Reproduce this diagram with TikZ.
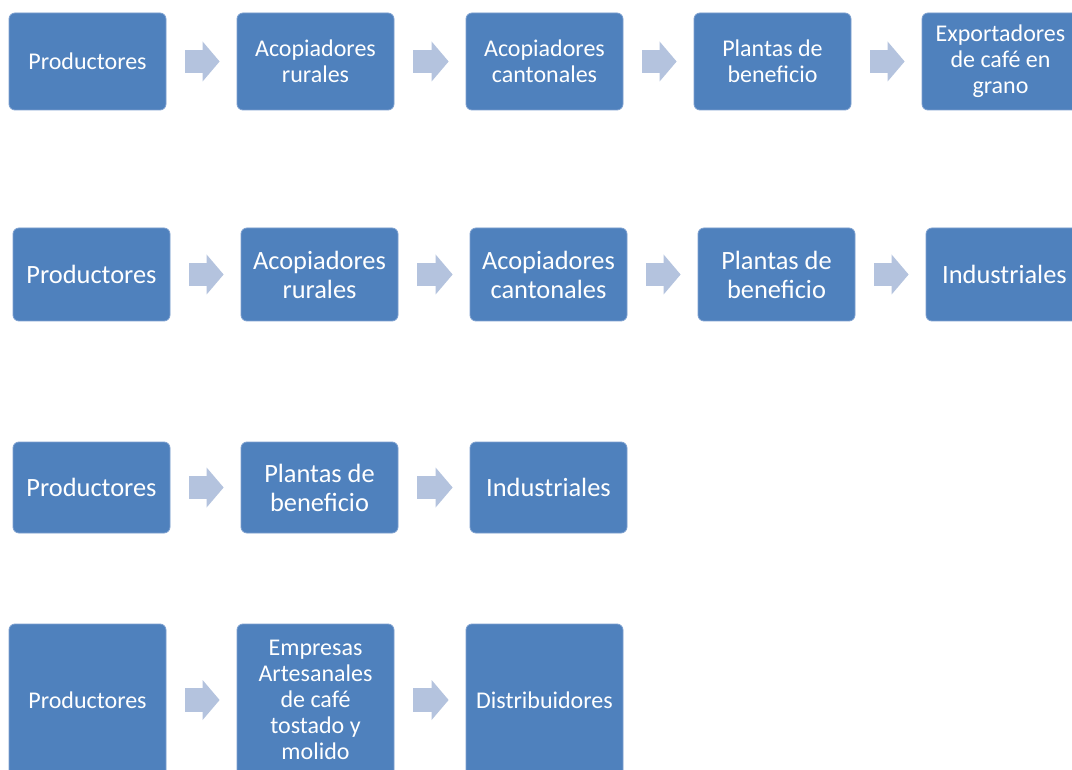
\documentclass[tikz,border=0pt]{standalone}
\usepackage{fontspec}
\setmainfont{Carlito}
\usetikzlibrary{arrows.meta}
\definecolor{boxblue}{RGB}{79,129,189}
\definecolor{boxedge}{RGB}{125,160,208}
\definecolor{arrfill}{RGB}{180,195,222}
\tikzset{
  flowbox/.style={rectangle, rounded corners=4.5pt, fill=boxblue, draw=boxedge, line width=0.6pt,
    text=white, align=center, minimum width=117.75pt, inner sep=0pt},
  smallrow/.style={flowbox, font=\fontsize{18}{19.5}\selectfont},
  bigrow/.style={flowbox, font=\fontsize{19.8}{21.8}\selectfont},
  blockarrow/.style={draw=arrfill, line width=17.5pt,
    -{Triangle[length=12.75pt,width=30pt,line width=0pt]}, shorten <=14.25pt, shorten >=12.75pt}
}
\begin{document}
\begin{tikzpicture}[x=0.75pt,y=-0.75pt]
\clip (0,0) rectangle (1072,770);
\fill[white] (0,0) rectangle (1072,770);
% Row 1
\begin{scope}[every node/.append style={smallrow, minimum height=72.75pt}]
\node (a1) at (87.5,61.5) {Productores};
\node (a2) at (315.5,61.5) {Acopiadores\\rurales};
\node (a3) at (544.5,61.5) {Acopiadores\\cantonales};
\node (a4) at (772.5,61.5) {Plantas de\\beneficio};
\node (a5) at (1000.5,61.5) {Exportadores\\de café en\\grano};
\end{scope}
% Row 2
\begin{scope}[every node/.append style={bigrow, minimum height=69.75pt}]
\node (b1) at (91.5,274.5) {Productores};
\node (b2) at (319.5,274.5) {Acopiadores\\rurales};
\node (b3) at (548.5,274.5) {Acopiadores\\cantonales};
\node (b4) at (776.5,274.5) {Plantas de\\beneficio};
\node (b5) at (1004.5,274.5) {Industriales};
\end{scope}
% Row 3
\begin{scope}[every node/.append style={bigrow, minimum height=68.25pt}]
\node (c1) at (91.5,487.5) {Productores};
\node (c2) at (319.5,487.5) {Plantas de\\beneficio};
\node (c3) at (548.5,487.5) {Industriales};
\end{scope}
% Row 4
\begin{scope}[every node/.append style={smallrow, minimum height=114pt}]
\node (d1) at (87.5,700) {Productores};
\node (d2) at (315.5,700) {Empresas\\Artesanales\\de café\\tostado y\\molido};
\node (d3) at (544.5,700) {Distribuidores};
\end{scope}
% Arrows
\foreach \p/\q in {a1/a2,a2/a3,a3/a4,a4/a5,b1/b2,b2/b3,b3/b4,b4/b5,c1/c2,c2/c3,d1/d2,d2/d3}
  \draw[blockarrow] (\p) -- (\q);
\end{tikzpicture}
\end{document}
